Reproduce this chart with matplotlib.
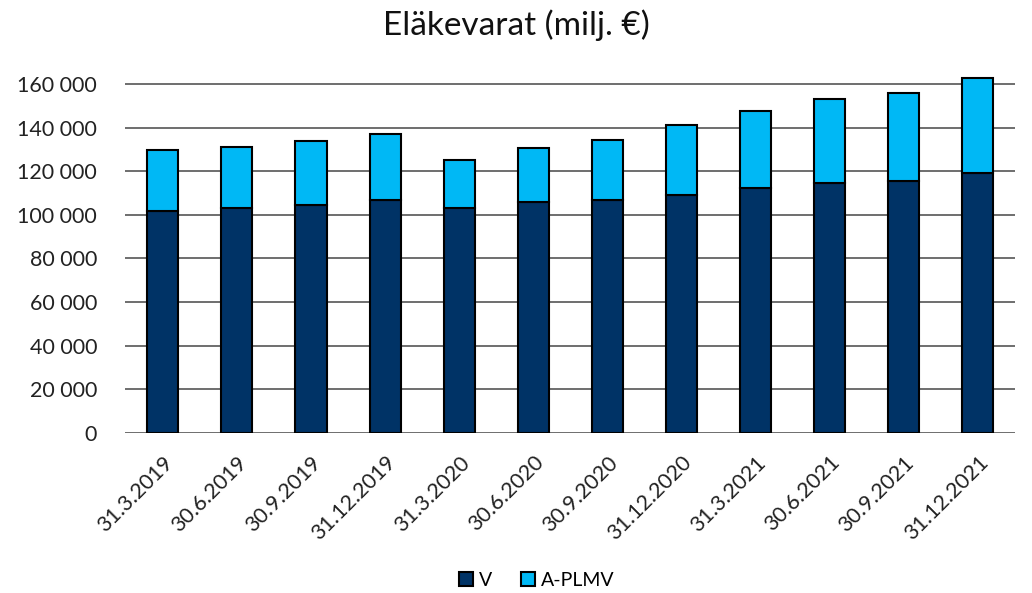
import numpy as np
import matplotlib.pyplot as plt
from matplotlib.ticker import FuncFormatter

# Quarter-end dates and pension assets (milj. €)
dates = ["31.3.2019", "30.6.2019", "30.9.2019", "31.12.2019", "31.3.2020", "30.6.2020",
         "30.9.2020", "31.12.2020", "31.3.2021", "30.6.2021", "30.9.2021", "31.12.2021"]
v = [101900, 103300, 104400, 106800, 103300, 106000, 106800, 109100, 112200, 114500, 115700, 119000]
a_plmv = [27900, 28000, 29500, 30500, 21700, 24800, 27600, 32300, 35600, 38500, 40400, 43700]

plt.rcParams['font.family'] = ['Lato', 'DejaVu Sans']

fig = plt.figure(figsize=(10.32, 5.93), dpi=100)
ax = fig.add_axes([0.1211, 0.270, 0.8624, 0.6066])

x = np.arange(len(dates))
ax.bar(x, v, width=0.42, color="#003366", edgecolor="black", linewidth=1.5, label="V", zorder=3)
ax.bar(x, a_plmv, width=0.42, bottom=v, color="#00B8F5", edgecolor="black", linewidth=1.5,
       label="A-PLMV", zorder=3)

ax.set_xlim(-0.51, 11.5)
ax.set_ylim(0, 165000)
ax.set_yticks(np.arange(0, 160001, 20000))
ax.yaxis.set_major_formatter(FuncFormatter(lambda val, p: f"{int(val):,}".replace(",", " ")))
ax.yaxis.grid(True, color="#555555", linewidth=1.2, zorder=0)
ax.set_axisbelow(True)
for s in ax.spines.values():
    s.set_visible(False)
ax.tick_params(axis="both", length=0, labelsize=15.5, colors="#222222")
ax.tick_params(axis="y", pad=20)
ax.set_xticks(x)
ax.set_xticklabels(dates, rotation=45, ha="right", rotation_mode="anchor")
ax.tick_params(axis="x", pad=14)

fig.suptitle("Eläkevarat (milj. €)", y=0.985, fontsize=24, color="#111111")
fig.legend(loc="lower center", bbox_to_anchor=(0.52, -0.022), ncol=2, frameon=False, fontsize=14,
           handlelength=0.7, handleheight=0.7, handletextpad=0.3, columnspacing=1.5)

fig.savefig("out.png", dpi=100)
